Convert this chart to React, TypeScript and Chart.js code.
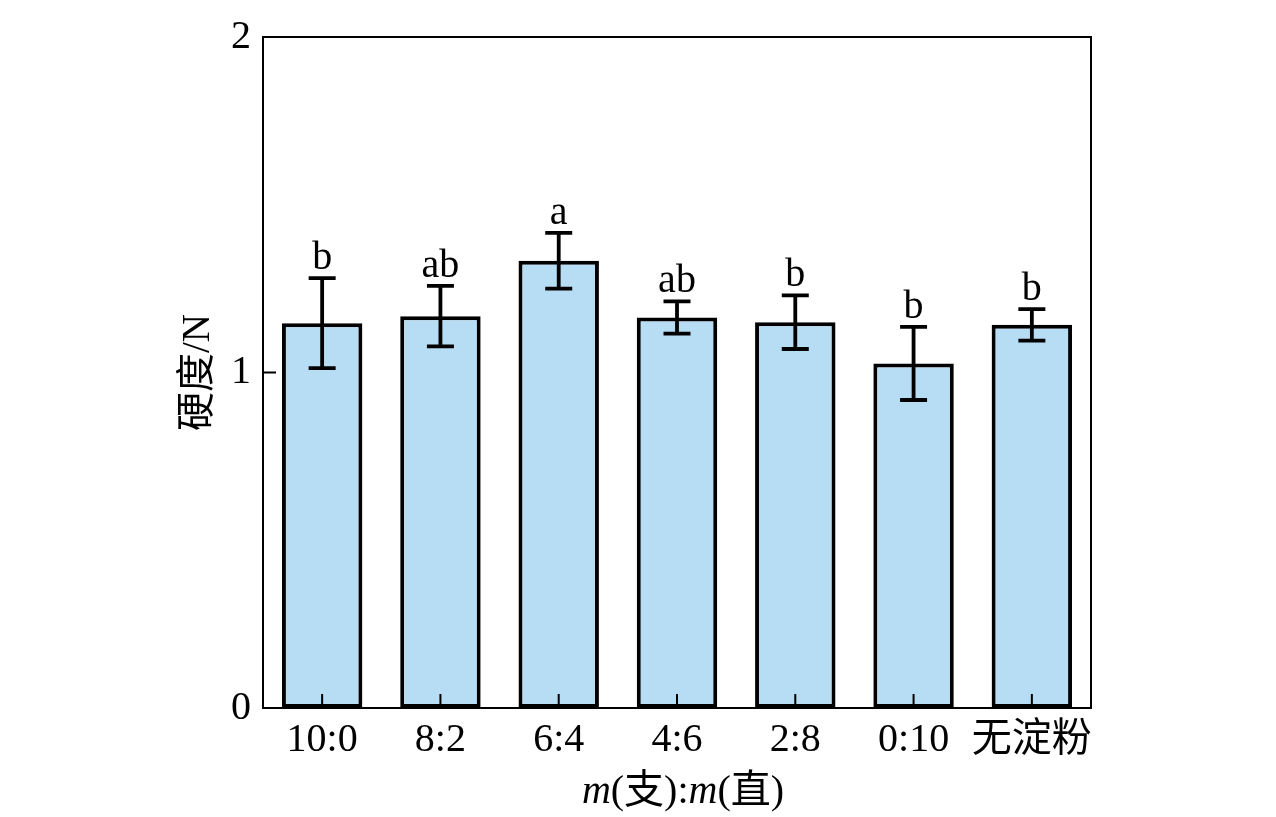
import React, { useEffect, useRef } from 'react';
import { Chart, registerables } from 'chart.js';

Chart.register(...registerables);

const categories = ['10:0', '8:2', '6:4', '4:6', '2:8', '0:10', '无淀粉'];
const hardness = [1.147, 1.168, 1.333, 1.164, 1.150, 1.027, 1.142];
const hardnessErr = [0.134, 0.09, 0.083, 0.048, 0.08, 0.109, 0.047];
const sigLetters = ['b', 'ab', 'a', 'ab', 'b', 'b', 'b'];
const yTicks = [0, 1, 2];

const SERIF = '"Liberation Serif", "Times New Roman", "Noto Sans CJK SC", serif';

const frameAndMarks = {
  id: 'frameAndMarks',
  afterDatasetsDraw(chart: any) {
    const { ctx, chartArea, scales } = chart;
    const { left, right, top, bottom } = chartArea;
    const x = scales.x;
    const y = scales.y;
    ctx.save();
    ctx.strokeStyle = '#000';
    ctx.lineWidth = 2;
    ctx.strokeRect(left, top, right - left, bottom - top);

    // inward tick marks
    ctx.beginPath();
    yTicks.forEach((v) => {
      const py = y.getPixelForValue(v);
      ctx.moveTo(left, py);
      ctx.lineTo(left + 13, py);
    });
    categories.forEach((_, i) => {
      const px = x.getPixelForValue(i);
      ctx.moveTo(px, bottom);
      ctx.lineTo(px, bottom - 14);
    });
    ctx.stroke();

    // error bars + letters
    ctx.lineWidth = 3.8;
    ctx.font = `40px ${SERIF}`;
    ctx.fillStyle = '#000';
    ctx.textAlign = 'center';
    ctx.textBaseline = 'alphabetic';
    hardness.forEach((v, i) => {
      const px = x.getPixelForValue(i);
      const hi = y.getPixelForValue(v + hardnessErr[i]);
      const lo = y.getPixelForValue(v - hardnessErr[i]);
      ctx.beginPath();
      ctx.moveTo(px, hi);
      ctx.lineTo(px, lo);
      ctx.moveTo(px - 13.5, hi);
      ctx.lineTo(px + 13.5, hi);
      ctx.moveTo(px - 13.5, lo);
      ctx.lineTo(px + 13.5, lo);
      ctx.stroke();
      ctx.fillText(sigLetters[i], px, hi - 9);
    });

    // x title with italic m
    const parts: [string, boolean][] = [
      ['m', true], ['(支):', false], ['m', true], ['(直)', false],
    ];
    const fontFor = (it: boolean) => `${it ? 'italic ' : ''}40px ${SERIF}`;
    let total = 0;
    parts.forEach(([t, it]) => {
      ctx.font = fontFor(it);
      total += ctx.measureText(t).width;
    });
    let cx = (left + right) / 2 + 6 - total / 2;
    ctx.textAlign = 'left';
    parts.forEach(([t, it]) => {
      ctx.font = fontFor(it);
      ctx.fillText(t, cx, 803);
      cx += ctx.measureText(t).width;
    });
    ctx.restore();
  },
};

const App: React.FC = () => {
  const canvasRef = useRef<HTMLCanvasElement>(null);
  const chartRef = useRef<Chart | null>(null);

  useEffect(() => {
    if (!canvasRef.current) return;
    if (chartRef.current) chartRef.current.destroy();

    chartRef.current = new Chart(canvasRef.current, {
      type: 'bar',
      data: {
        labels: categories,
        datasets: [
          {
            label: '硬度',
            data: hardness,
            backgroundColor: '#b7ddf4',
            borderColor: '#000',
            borderWidth: 4,
            borderSkipped: false,
            categoryPercentage: 1,
            barPercentage: 0.68,
          },
        ],
      },
      options: {
        responsive: true,
        maintainAspectRatio: false,
        animation: false,
        layout: { padding: { left: 168, right: 185, top: 37, bottom: 0 } },
        plugins: { legend: { display: false }, tooltip: { enabled: false } },
        scales: {
          x: {
            grid: { display: false, drawTicks: false },
            border: { display: false },
            ticks: {
              color: '#000',
              font: { family: SERIF, size: 40 },
              padding: 8,
              maxRotation: 0,
              autoSkip: false,
            },
            afterFit: (scale: any) => { scale.height = 109; },
          },
          y: {
            min: 0,
            max: 2,
            grid: { display: false, drawTicks: false },
            border: { display: false },
            afterBuildTicks: (scale: any) => { scale.ticks = yTicks.map((v) => ({ value: v })); },
            ticks: { color: '#000', font: { family: SERIF, size: 40 }, padding: 12 },
            title: {
              display: true,
              text: '硬度/N',
              color: '#000',
              font: { family: SERIF, size: 39 },
              padding: { top: 7, bottom: 0 },
            },
            afterFit: (scale: any) => { scale.width = 95; },
          },
        },
      },
      plugins: [frameAndMarks],
    });

    return () => {
      if (chartRef.current) chartRef.current.destroy();
    };
  }, []);

  return (
    <div style={{ position: 'absolute', left: 0, top: 0, width: 1276, height: 817, background: '#fff' }}>
      <canvas ref={canvasRef}></canvas>
    </div>
  );
};

export default App;
